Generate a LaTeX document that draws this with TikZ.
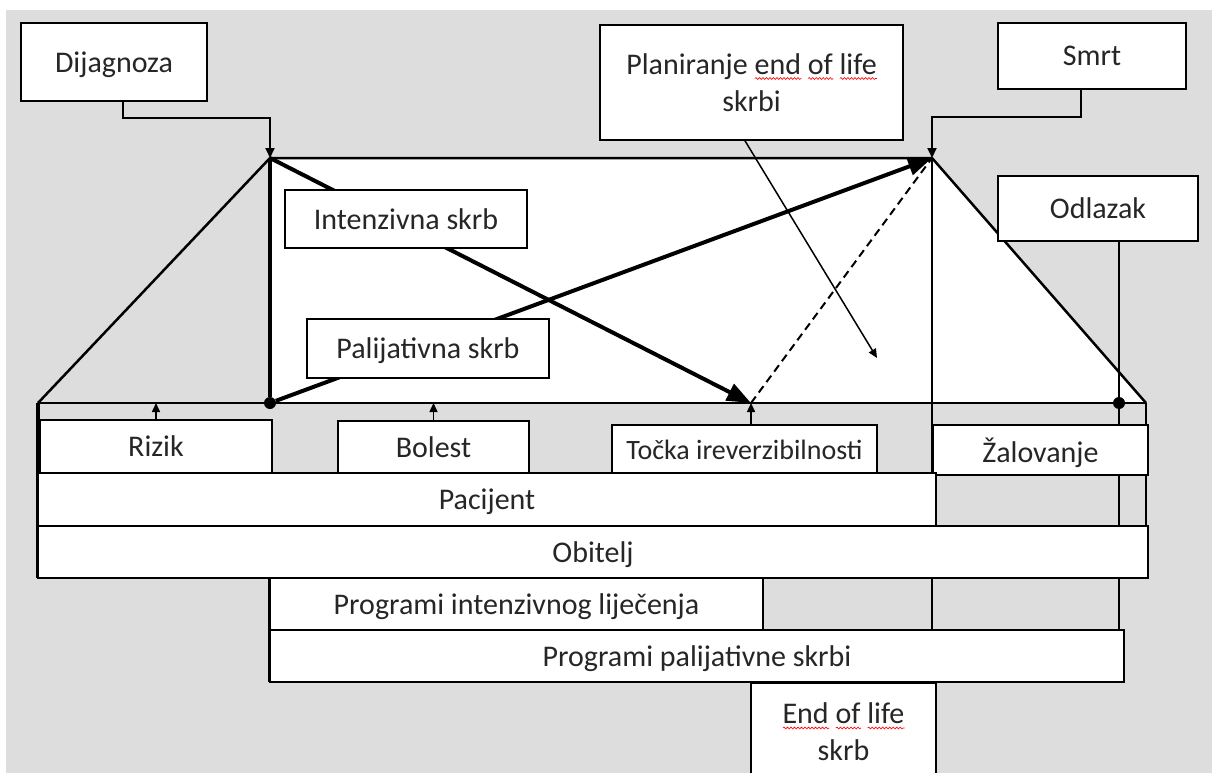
\documentclass[tikz,border=0pt]{standalone}
\usepackage{fontspec}
\setmainfont{Carlito}
\usetikzlibrary{arrows.meta,backgrounds,decorations.pathmorphing}
\definecolor{bggray}{RGB}{221,221,221}
\newlength\wavelen
\newcommand\spellwave[1]{\settowidth\wavelen{#1}%
  \rlap{\raisebox{-5.5pt}{\tikz[x=1pt,y=1pt]\draw[red, line width=0.6pt, decorate,
    decoration={snake, amplitude=1pt, segment length=3.5pt}] (0,0) -- (\wavelen,0);}}#1}

\begin{document}
\begin{tikzpicture}[x=1pt, y=-1pt,
    base/.style={draw, fill=white, line width=1.5pt, inner sep=0pt, outer sep=0pt,
      text=black!85, align=center, font=\fontsize{30}{37}\selectfont},
    box/.style={base, text depth=0pt},
    frame/.style={line width=2.5pt},
    dot/.style={circle, fill=black, inner sep=0pt, minimum size=12pt},
    bigarrow/.style={line width=4pt, -{Triangle[length=24pt,width=18pt]}},
    conn/.style={line width=2pt, -{Triangle[length=10pt,width=9pt]}},
    smallarrow/.style={line width=1.5pt, -{Triangle[length=9pt,width=8pt]}}]
  \useasboundingbox (0,0) rectangle (1212,773);
  \clip (0,0) rectangle (1212,773);

  % corners of the frame
  \coordinate (dg) at (270,158);
  \coordinate (sm) at (932,158);
  \coordinate (lt) at (38,403);
  \coordinate (rt) at (1146,403);
  \coordinate (tk) at (751,403);
  \coordinate (pe) at (877,358);

  % top boxes
  \node [box, minimum width=186pt, minimum height=78pt] (dijagnoza) at (114,62) {Dijagnoza};
  \node [base, minimum width=303pt, minimum height=115pt] (planiranje) at (751.5,82.5)
    {Planiranje \spellwave{end} \spellwave{of} \spellwave{life}\\ skrbi};
  \node [box, minimum width=188pt, minimum height=66pt] (smrt) at (1092,56) {Smrt};
  \node [box, minimum width=200pt, minimum height=65pt] (odlazak) at (1098,208.5) {Odlazak};
  \node [box, minimum width=242pt, minimum height=58pt] (intenzivna) at (406,219) {Intenzivna skrb};
  \node [box, minimum width=242pt, minimum height=59pt] (palijativna) at (428,348.5) {Palijativna skrb};

  % row of phases
  \node [box, minimum width=232pt, minimum height=53pt] (rizik) at (156,446.5) {Rizik};
  \node [box, minimum width=191pt, minimum height=52pt] (bolest) at (433.5,447) {Bolest};
  \node [box, minimum width=265pt, minimum height=49pt, font=\fontsize{28}{34}\selectfont] (tocka) at (744.5,449.5) {Točka ireverzibilnosti};
  \node [box, minimum width=215pt, minimum height=50pt] (zalovanje) at (1040.5,450) {Žalovanje};

  % bars
  \node [box, minimum width=898pt, minimum height=53pt] (pacijent) at (487,499.5) {Pacijent};
  \node [box, minimum width=1110pt, minimum height=52pt] (obitelj) at (593,552) {Obitelj};
  \node [box, minimum width=493pt, minimum height=52pt] (print) at (516.5,604) {Programi intenzivnog liječenja};
  \node [box, minimum width=854pt, minimum height=52pt] (prpal) at (697,656) {Programi palijativne skrbi};
  \node [base, minimum width=185pt, minimum height=98pt] (endlife) at (843.5,732)
    {\spellwave{End} \spellwave{of} \spellwave{life}\\ skrb};

  \node [dot] (pd) at (270,403) {};
  \node [dot] (od) at (1119,403) {};

  \begin{scope}[on background layer]
    \fill [bggray] (6,10) rectangle (1212,773);
    \fill [white] (dg) -- (sm) -- (rt) -- (lt -| dg) -- cycle;
    \draw [frame] (lt) -- (dg) -- (sm) -- (rt);
    \draw [frame] (lt) -- (rt);
    \draw [line width=3.5pt] (dg) -- (pd);
    \draw [line width=4pt] (lt) -- (obitelj.south west);
    \draw [line width=3.5pt] (print.north west) -- (prpal.south west);
    \draw [line width=2pt] (sm) -- (sm |- prpal.north);
    \draw [line width=2pt] (od |- odlazak.south) -- (od |- prpal.north);
    \draw [line width=2pt] (rt) -- (rt |- obitelj.north);
    \draw [bigarrow] (dg) -- (tk);
    \draw [bigarrow] (pd) -- (sm);
    \draw [line width=2pt, dash pattern=on 8pt off 5pt] (tk) -- (sm);
  \end{scope}

  \draw [conn] ([xshift=9pt]dijagnoza.south) |- ([yshift=40pt]dg) -- (dg);
  \draw [conn] ([xshift=-11pt]smrt.south) |- ([yshift=41pt]sm) -- (sm);
  \draw [smallarrow] ([xshift=-7pt]planiranje.south) -- (pe);
  \draw [smallarrow] (rizik.north) -- (rizik.north |- lt);
  \draw [smallarrow] (bolest.north) -- (bolest.north |- lt);
  \draw [smallarrow] (tk |- tocka.north) -- (tk);
\end{tikzpicture}
\end{document}
